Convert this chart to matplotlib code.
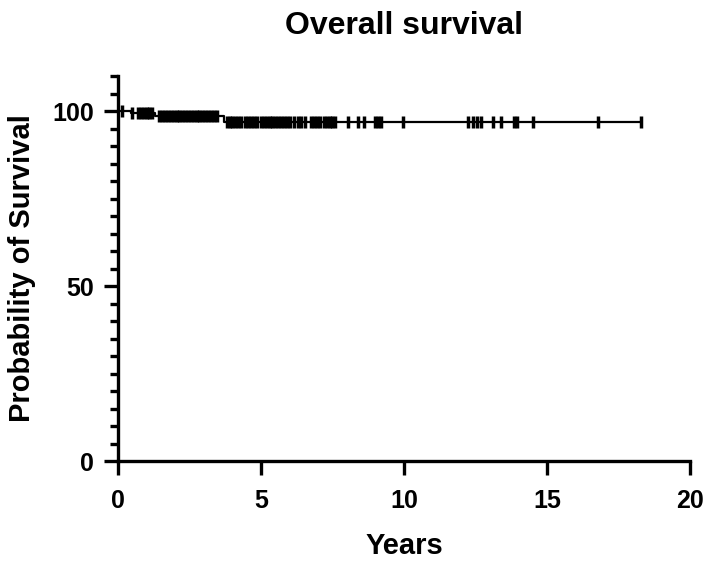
import matplotlib.pyplot as plt
import numpy as np

plt.rcParams['font.family'] = ['Liberation Sans', 'DejaVu Sans']
plt.rcParams['font.weight'] = 'bold'

# Kaplan-Meier steps (years, % surviving)
event_times = [0.0, 0.45, 1.3, 3.7]
survival = [100.0, 99.4, 98.7, 96.9]
last_time = 18.3

# censored observations (years)
censored = [0.14, 0.5, 0.7, 0.8, 0.9, 1.0, 1.1, 1.2,
            1.45, 1.55, 1.65, 1.75, 1.85, 1.95, 2.05, 2.15, 2.25, 2.35,
            2.45, 2.55, 2.65, 2.75, 2.85, 2.95, 3.05, 3.15, 3.25, 3.35, 3.45,
            3.8, 3.9, 4.0, 4.1, 4.2, 4.3, 4.45, 4.55, 4.65, 4.75, 4.85,
            5.0, 5.1, 5.2, 5.3, 5.4, 5.5, 5.6, 5.7, 5.8, 5.9,
            6.0, 6.15, 6.3, 6.4, 6.55, 6.75, 6.85, 6.95, 7.05,
            7.2, 7.3, 7.4, 7.5, 7.6, 8.05, 8.4, 8.6, 9.0, 9.1, 9.2, 9.97,
            12.25, 12.4, 12.55, 12.7, 13.1, 13.4, 13.85, 13.95, 14.5, 16.8, 18.3]

fig = plt.figure(figsize=(7.09, 5.62), dpi=100)
ax = fig.add_axes([0.1664, 0.1797, 0.8068, 0.685])

xs = event_times + [last_time]
ys = survival + [survival[-1]]
ax.step(xs, ys, where='post', color='black', lw=1.6)

idx = np.searchsorted(event_times, censored, side='right') - 1
cy = np.array(survival)[idx]
ax.plot(censored, cy, ls='none', marker='|', ms=9, mew=2.5, color='black')

ax.set_xlim(0, 20)
ax.set_ylim(0, 110)
ax.set_xticks([0, 5, 10, 15, 20])
ax.set_yticks([0, 50, 100])
ax.set_yticks(np.arange(0, 111, 5), minor=True)

for s in ['top', 'right']:
    ax.spines[s].set_visible(False)
for s in ['left', 'bottom']:
    ax.spines[s].set_linewidth(2.4)

ax.tick_params(axis='both', which='major', length=10, width=2.4, labelsize=18, pad=7)
ax.tick_params(axis='x', which='major', pad=10)
ax.tick_params(axis='y', which='minor', length=6, width=2.4)

ax.set_xlabel('Years', fontsize=21, fontweight='bold', labelpad=14)
ax.set_ylabel('Probability of Survival', fontsize=21, fontweight='bold', labelpad=12)
ax.set_title('Overall survival', fontsize=23, fontweight='bold', pad=30)

fig.savefig('out.png', dpi=100)
